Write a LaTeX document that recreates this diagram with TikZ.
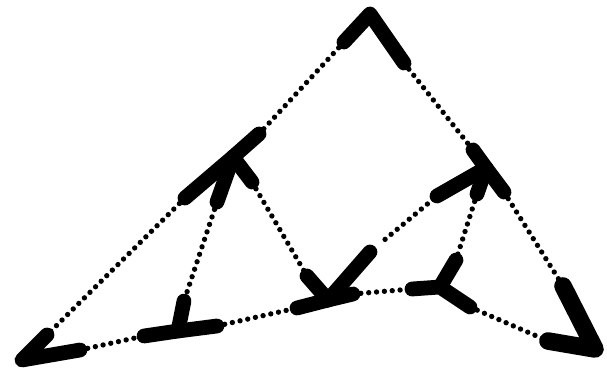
\documentclass[tikz,border=0pt]{standalone}

\begin{document}
\begin{tikzpicture}[
  x=0.025cm, y=-0.025cm,
  stub/.style={draw=black, line width=10.5pt, line cap=round, line join=round},
  bigstub/.style={stub, line width=12.5pt},
  link/.style={draw=black, line width=3.8pt, line cap=round, dash pattern=on 0pt off 5.6pt}
]
\useasboundingbox (0,0) rectangle (607,374);

% vertices
\coordinate (T) at (370,14);
\coordinate (A) at (233,157);
\coordinate (R) at (486,168);
\coordinate (BL) at (22,360);
\coordinate (Y1) at (178,331);
\coordinate (X) at (328,300);
\coordinate (Y2) at (440,287);
\coordinate (BR) at (595,349);

% half-edge ends
\coordinate (Ta) at (344,42);
\coordinate (Tr) at (404,63);
\coordinate (At) at (259,134);
\coordinate (Ab) at (185,198);
\coordinate (Ay) at (217,202);
\coordinate (Ax) at (252,182);
\coordinate (Rt) at (473,150);
\coordinate (Rb) at (504,192);
\coordinate (Rx) at (437,196);
\coordinate (Ry) at (477,194);
\coordinate (BLa) at (47,335);
\coordinate (BLy) at (80,350);
\coordinate (Y1a) at (184,301);
\coordinate (Y1b) at (144,336);
\coordinate (Y1x) at (217,326);
\coordinate (Xa) at (307,276);
\coordinate (Xr) at (370,252);
\coordinate (Xl) at (297,308);
\coordinate (Xy) at (353,294);
\coordinate (Y2r) at (456,260);
\coordinate (Y2x) at (412,289);
\coordinate (Y2b) at (470,307);
\coordinate (BRr) at (563,286);
\coordinate (BRy) at (548,341);

% dotted links
\draw[link] (Ta) -- (At);
\draw[link] (Tr) -- (Rt);
\draw[link] (Ab) -- (BLa);
\draw[link] (Ay) -- (Y1a);
\draw[link] (Ax) -- (Xa);
\draw[link, shorten <=14pt] (Xr) -- (Rx);
\draw[link] (Ry) -- (Y2r);
\draw[link] (Rb) -- (BRr);
\draw[link] (BLy) -- (Y1b);
\draw[link] (Y1x) -- (Xl);
\draw[link] (Xy) -- (Y2x);
\draw[link] (Y2b) -- (BRy);

% thick half-edges
\draw[stub] (Ta) -- (T) -- (Tr);
\draw[stub] (At) -- (A) -- (Ab);
\draw[stub] (A) -- (Ay);
\draw[stub] (A) -- (Ax);
\draw[stub] (Rt) -- (R) -- (Rb);
\draw[stub] (R) -- (Rx);
\draw[stub] (R) -- (Ry);
\draw[stub] (BLa) -- (BL) -- (BLy);
\draw[stub] (Y1b) -- (Y1) -- (Y1x);
\draw[stub] (Y1) -- (Y1a);
\draw[stub] (Xl) -- (X) -- (Xy);
\draw[stub] (X) -- (Xa);
\draw[stub] (X) -- (Xr);
\draw[stub] (Y2x) -- (Y2) -- (Y2b);
\draw[stub] (Y2) -- (Y2r);
\draw[bigstub] (BRr) -- (BR) -- (BRy);
\end{tikzpicture}
\end{document}
